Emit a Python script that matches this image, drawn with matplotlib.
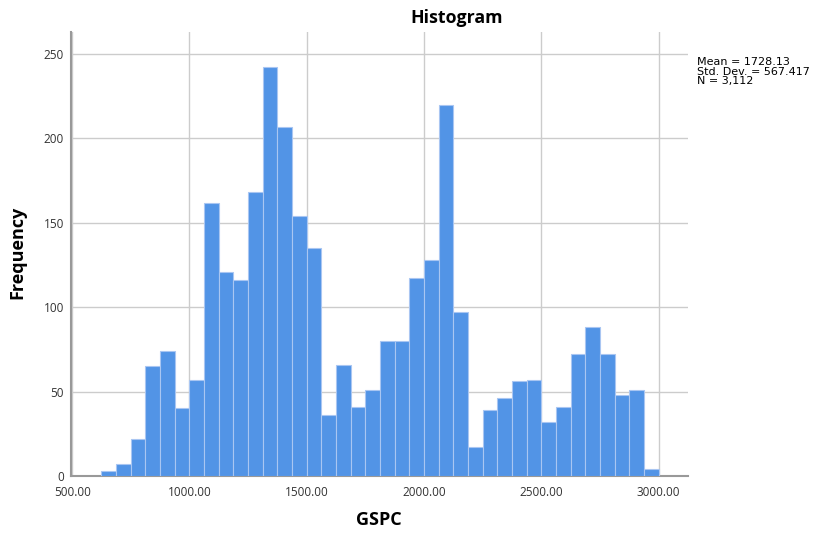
import matplotlib
matplotlib.use("Agg")
import matplotlib.pyplot as plt
import numpy as np

plt.rcParams['font.family'] = ['Open Sans', 'DejaVu Sans']

# Histogram bins (width 62.5) and counts
bin_start = 625.0
bin_width = 62.5
counts = [3, 7, 22, 65, 74, 40, 57, 162, 121, 116, 168, 242, 207, 154, 135,
          36, 66, 41, 51, 80, 80, 117, 128, 220, 97, 17, 39, 46, 56, 57, 32,
          41, 72, 88, 72, 48, 51, 4]
edges = bin_start + bin_width * np.arange(len(counts) + 1)

x_ticks = [500, 1000, 1500, 2000, 2500, 3000]
y_ticks = [0, 50, 100, 150, 200, 250]
stats = ["Mean = 1728.13", "Std. Dev. = 567.417", "N = 3,112"]

fig = plt.figure(figsize=(8.16, 5.33), dpi=100)
ax = fig.add_axes([71 / 816, 1 - 476 / 533, (688 - 71) / 816, (476 - 32) / 533])

ax.bar(edges[:-1], counts, width=bin_width, align='edge',
       color='#5294e6', edgecolor='#a9c6f2', linewidth=0.8, zorder=3)

ax.set_xlim(495, 3125)
ax.set_ylim(0, 263)
ax.set_xticks(x_ticks)
ax.set_xticklabels([f"{v:.2f}" for v in x_ticks])
ax.set_yticks(y_ticks)
ax.grid(True, color='#cccccc', linewidth=1.0, zorder=0)
ax.tick_params(length=0, labelsize=8.5, colors='#333333')
ax.tick_params(axis='x', pad=7)
ax.tick_params(axis='y', pad=5)

for side in ('top', 'right'):
    ax.spines[side].set_visible(False)
for side in ('left', 'bottom'):
    ax.spines[side].set_color('#999999')
    ax.spines[side].set_linewidth(1.5)

fig.text(457 / 816, 1 - 18 / 533, "Histogram", ha='center', va='center',
         fontsize=12.8, fontweight='bold')
fig.text(17 / 816, 1 - 252 / 533, "Frequency", ha='center', va='center',
         rotation=90, fontsize=13, fontweight='bold')
fig.text(379 / 816, 1 - 520 / 533, "GSPC", ha='center', va='center',
         fontsize=13, fontweight='bold')
fig.text(697 / 816, 1 - 57 / 533, "\n".join(stats), ha='left', va='top',
         fontsize=8, linespacing=0.95, family='DejaVu Sans')

fig.savefig("out.png", dpi=100)
